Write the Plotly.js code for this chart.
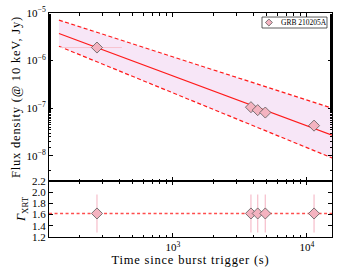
<!DOCTYPE html>
<html>
<head>
<meta charset="utf-8">
<script src="https://cdn.plot.ly/plotly-3.0.1.min.js"></script>
<style>
html,body{margin:0;padding:0;background:#fff;}
#plot{width:340px;height:272px;}
text.xtitle, text.ytitle{letter-spacing:0.8px;}
</style>
</head>
<body>
<div id="plot"></div>
<script>
// Observed data points (GRB 210205A)
var obsTime = [271, 3820, 4290, 4890, 11300];
var obsTimeErrPlus = [145, 0, 0, 0, 0];
var obsTimeErrMinus = [127, 0, 0, 0, 0];
var obsFlux = [1.88e-6, 1.05e-7, 9.1e-8, 8.1e-8, 4.3e-8];
var obsFluxErr = [0.15e-6, 0.12e-7, 0.1e-7, 0.09e-7, 0.6e-8];
var obsGamma = [1.62, 1.62, 1.62, 1.62, 1.62];
var obsGammaErr = [0.34, 0.34, 0.34, 0.34, 0.34];
var seriesName = 'GRB 210205A';

// Power-law fit and its uncertainty band
var fitTime = [141, 15400];
var fitFlux = [3.7e-6, 2.7e-8];
var fitUpper = [7.1e-6, 1.0e-7];
var fitLower = [2.0e-6, 9.0e-9];

// Mean photon index
var gammaLineTime = [119, 15400];
var gammaLine = [1.62, 1.62];

var xMajor = [1000, 10000];
var xMajorText = ['10<sup>3</sup>', '10<sup>4</sup>'];
var xMinor = [200,300,400,500,600,700,800,900,2000,3000,4000,5000,6000,7000,8000,9000];
var yTickVals = [1e-8, 1e-7, 1e-6, 1e-5];
var yTickText = ['10<sup>−8</sup>', '10<sup>−7</sup>', '10<sup>−6</sup>', '10<sup>−5</sup>'];
var g2Ticks = [1.2, 1.4, 1.6, 1.8, 2.0, 2.2];
var g2Text = ['1.2', '1.4', '1.6', '1.8', '2.0', '2.2'];

var red = '#ff1a1a';
var pink = '#f4b3c0';
var errPink = '#f7c3cf';
var bandFill = 'rgba(236,196,236,0.42)';
var font = 'Liberation Serif, DejaVu Serif, serif';

var traces = [
  {x: fitTime, y: fitLower, mode: 'lines', line: {color: red, width: 1.2, dash: '4px,2.5px'}, xaxis: 'x2', yaxis: 'y', showlegend: false, hoverinfo: 'skip'},
  {x: fitTime, y: fitUpper, mode: 'lines', line: {color: red, width: 1.2, dash: '4px,2.5px'}, fill: 'tonexty', fillcolor: bandFill, xaxis: 'x2', yaxis: 'y', showlegend: false, hoverinfo: 'skip'},
  {x: fitTime, y: fitFlux, mode: 'lines', line: {color: red, width: 1.2}, xaxis: 'x2', yaxis: 'y', showlegend: false},
  {x: obsTime, y: obsFlux, mode: 'markers', name: seriesName, showlegend: false,
   marker: {symbol: 'diamond', size: 8.5, color: pink, line: {color: '#5a5a5a', width: 0.8}},
   error_x: {type: 'data', array: obsTimeErrPlus, arrayminus: obsTimeErrMinus, color: errPink, thickness: 1, width: 0},
   error_y: {type: 'data', array: obsFluxErr, color: errPink, thickness: 1, width: 0},
   xaxis: 'x2', yaxis: 'y'},
  {x: gammaLineTime, y: gammaLine, mode: 'lines', line: {color: '#ff4d4d', width: 1.3, dash: '3px,2.5px'}, xaxis: 'x', yaxis: 'y2', showlegend: false},
  {x: obsTime, y: obsGamma, mode: 'markers', showlegend: false,
   marker: {symbol: 'diamond', size: 8.5, color: pink, line: {color: '#5a5a5a', width: 0.8}},
   error_y: {type: 'data', array: obsGammaErr, color: errPink, thickness: 1.3, width: 0},
   xaxis: 'x', yaxis: 'y2'}
];

var xBase = {
  type: 'log', range: [2.075, 4.187], ticks: 'inside', ticklen: 4, tickwidth: 1, tickcolor: '#000',
  showline: true, linecolor: '#000', linewidth: 1, mirror: 'ticks', showgrid: false, zeroline: false,
  tickvals: xMajor, ticktext: xMajorText,
  minor: {tickvals: xMinor, ticks: 'inside', ticklen: 2.5, tickcolor: '#000', showgrid: false},
  tickfont: {family: font, size: 11, color: '#000'}
};

// Legend box drawn as a layout decoration (paper coordinates)
var lgX0 = 0.7527, lgX1 = 0.9823, lgY0 = 0.933, lgY1 = 0.982;
var kx = 0.777, ky = 0.9575, kdx = 0.0124, kdy = 0.0156;

var layout = {
  width: 340, height: 272,
  margin: {l: 49, r: 8, t: 13, b: 35},
  paper_bgcolor: '#fff', plot_bgcolor: '#fff',
  font: {family: font, size: 10, color: '#000'},
  showlegend: false,
  shapes: [
    {type: 'rect', xref: 'paper', yref: 'paper', x0: lgX0, x1: lgX1, y0: lgY0, y1: lgY1,
     line: {color: '#333', width: 0.8}, fillcolor: '#fff', layer: 'above'},
    {type: 'path', xref: 'paper', yref: 'paper', layer: 'above',
     path: 'M ' + (kx - kdx) + ',' + ky + ' L ' + kx + ',' + (ky + kdy) + ' L ' + (kx + kdx) + ',' + ky + ' L ' + kx + ',' + (ky - kdy) + ' Z',
     fillcolor: pink, line: {color: '#5a5a5a', width: 0.8}}
  ],
  annotations: [
    {xref: 'paper', yref: 'paper', x: 0.812, y: ky, xanchor: 'left', yanchor: 'middle', showarrow: false,
     text: seriesName, font: {family: font, size: 7.5, color: '#000'}}
  ],
  xaxis: Object.assign({}, xBase, {anchor: 'y2',
    title: {text: 'Time since burst trigger (s)', font: {family: font, size: 12.5}, standoff: 0}}),
  xaxis2: Object.assign({}, xBase, {anchor: 'y', matches: 'x', showticklabels: false}),
  yaxis: {
    domain: [0.25, 1], type: 'log', range: [-8.53, -5], ticks: 'inside', ticklen: 4, tickcolor: '#000',
    showline: true, linecolor: '#000', linewidth: 1, mirror: 'ticks', showgrid: false, zeroline: false,
    tickvals: yTickVals, ticktext: yTickText,
    minor: {ticks: 'inside', ticklen: 2, tickcolor: '#000', showgrid: false},
    tickfont: {family: font, size: 11},
    title: {text: 'Flux density (@ 10 keV, Jy)', font: {family: font, size: 12.5}, standoff: 3}
  },
  yaxis2: {
    domain: [0, 0.25], range: [1.2, 2.2], ticks: 'inside', ticklen: 4, tickcolor: '#000',
    showline: true, linecolor: '#000', linewidth: 1, mirror: 'ticks', showgrid: false, zeroline: false,
    tickvals: g2Ticks, ticktext: g2Text,
    tickfont: {family: font, size: 11},
    title: {text: '<i>Γ</i><sub>XRT</sub>', font: {family: font, size: 12.5}, standoff: 3}
  }
};

Plotly.newPlot('plot', traces, layout, {staticPlot: true, displayModeBar: false});
</script>
</body>
</html>
